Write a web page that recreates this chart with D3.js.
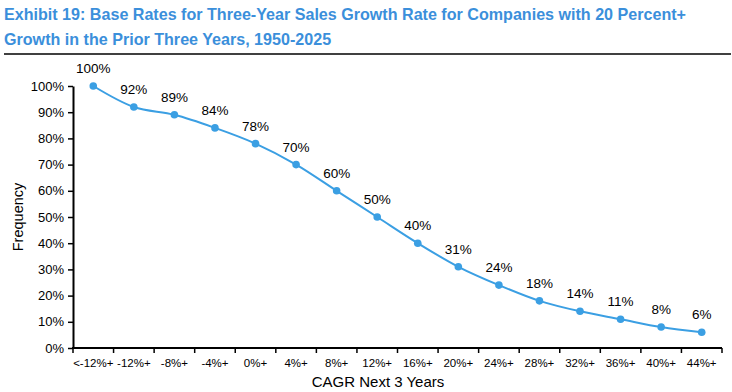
<!DOCTYPE html>
<html>
<head>
<meta charset="utf-8">
<script src="https://cdn.jsdelivr.net/npm/d3@7"></script>
<style>
  body { margin: 0; background: #fff; }
  text { font-family: "Liberation Sans", Arial, sans-serif; }
</style>
</head>
<body>
<div id="chart"></div>
<script>
const categories = ["<-12%+", "-12%+", "-8%+", "-4%+", "0%+", "4%+", "8%+", "12%+",
  "16%+", "20%+", "24%+", "28%+", "32%+", "36%+", "40%+", "44%+"]
const frequency = [100, 92, 89, 84, 78, 70, 60, 50, 40, 31, 24, 18, 14, 11, 8, 6]
const yTicks = [0, 10, 20, 30, 40, 50, 60, 70, 80, 90, 100]
const titleLines = [
  "Exhibit 19: Base Rates for Three-Year Sales Growth Rate for Companies with 20 Percent+",
  "Growth in the Prior Three Years, 1950-2025"
]

const width = 732, height = 392
const margin = { top: 86, right: 10, bottom: 44, left: 73 }

const svg = d3.select("#chart").append("svg")
  .attr("width", width)
  .attr("height", height)

// title
svg.selectAll(".title")
  .data(titleLines)
  .join("text")
    .attr("class", "title")
    .attr("x", 4)
    .attr("y", (d, i) => 20 + i * 25)
    .attr("fill", "#3b8fdb")
    .attr("font-size", 16.1)
    .attr("font-weight", "bold")
    .text(d => d)

svg.append("line")
  .attr("x1", 4).attr("x2", 731)
  .attr("y1", 54).attr("y2", 54)
  .attr("stroke", "#000").attr("stroke-width", 1.5)

const x = d3.scaleBand()
  .domain(categories)
  .range([margin.left, width - margin.right])

const y = d3.scaleLinear()
  .domain([0, 100])
  .range([height - margin.bottom, margin.top])

// y axis
const yAxis = svg.append("g")
  .attr("transform", `translate(${margin.left},0)`)
  .call(d3.axisLeft(y).tickValues(yTicks).tickFormat(d => d + "%").tickSize(5).tickSizeOuter(0))
yAxis.select(".domain").attr("stroke-width", 2)
yAxis.selectAll(".tick line").attr("stroke-width", 1.5)
yAxis.selectAll(".tick text")
  .attr("font-size", 13)
  .attr("font-family", "Liberation Sans, Arial, sans-serif")
  .attr("fill", "#000")
  .attr("x", -9)

// x axis with ticks at category boundaries
const xAxisG = svg.append("g")
  .attr("transform", `translate(0,${y(0)})`)
xAxisG.append("line")
  .attr("x1", margin.left - 1).attr("x2", width - margin.right)
  .attr("stroke", "#000").attr("stroke-width", 2)
const bounds = categories.map(c => x(c)).concat([x.range()[1]])
xAxisG.selectAll(".xtick")
  .data(bounds)
  .join("line")
    .attr("class", "xtick")
    .attr("x1", d => d).attr("x2", d => d)
    .attr("y1", 0).attr("y2", 5)
    .attr("stroke", "#000").attr("stroke-width", 1.5)
xAxisG.selectAll(".xlabel")
  .data(categories)
  .join("text")
    .attr("class", "xlabel")
    .attr("x", d => x(d) + x.bandwidth() / 2)
    .attr("y", 18.5)
    .attr("text-anchor", "middle")
    .attr("font-size", 11.5)
    .attr("fill", "#000")
    .text(d => d)

// axis titles
svg.append("text")
  .attr("x", 378)
  .attr("y", 387)
  .attr("text-anchor", "middle")
  .attr("font-size", 15)
  .text("CAGR Next 3 Years")

svg.append("text")
  .attr("transform", `translate(23,${y(50)}) rotate(-90)`)
  .attr("text-anchor", "middle")
  .attr("font-size", 14.5)
  .text("Frequency")

// line
const points = categories.map((c, i) => ({ c, v: frequency[i] }))
const line = d3.line()
  .x(d => x(d.c) + x.bandwidth() / 2)
  .y(d => y(d.v))
  .curve(d3.curveCatmullRom.alpha(0.5))

const blue = "#3b9fe3"
svg.append("path")
  .datum(points)
  .attr("d", line)
  .attr("fill", "none")
  .attr("stroke", blue)
  .attr("stroke-width", 2)

svg.selectAll(".dot")
  .data(points)
  .join("circle")
    .attr("class", "dot")
    .attr("cx", d => x(d.c) + x.bandwidth() / 2)
    .attr("cy", d => y(d.v))
    .attr("r", 3.8)
    .attr("fill", blue)

svg.selectAll(".dlabel")
  .data(points)
  .join("text")
    .attr("class", "dlabel")
    .attr("x", d => x(d.c) + x.bandwidth() / 2)
    .attr("y", d => y(d.v) - 13)
    .attr("text-anchor", "middle")
    .attr("font-size", 13.5)
    .attr("fill", "#000")
    .text(d => d.v + "%")
</script>
</body>
</html>
